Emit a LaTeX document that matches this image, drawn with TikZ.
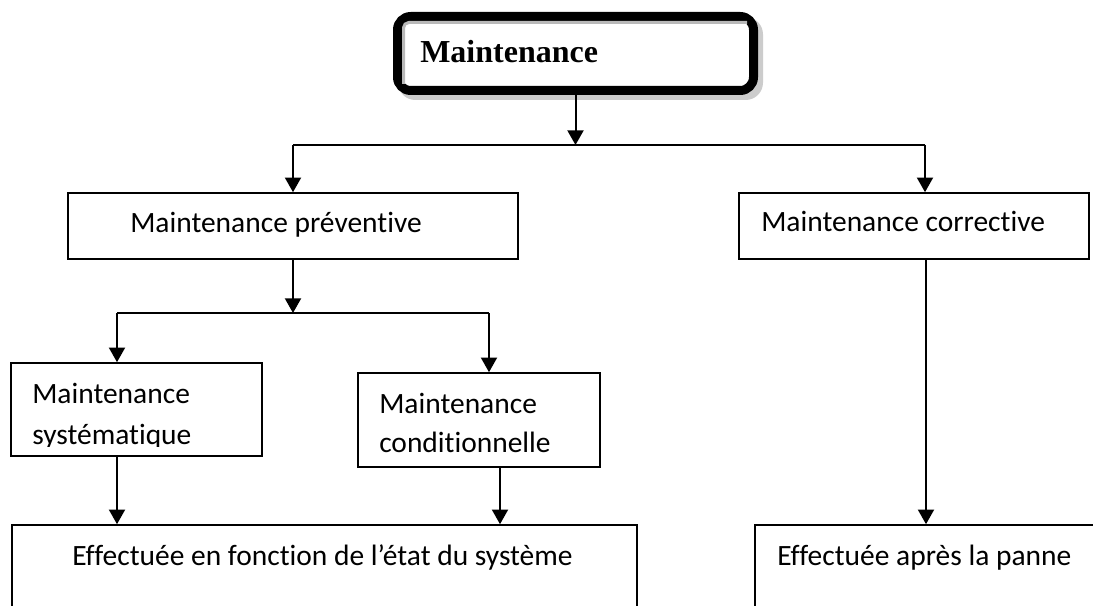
\documentclass[tikz,border=0pt]{standalone}
\usepackage{fontspec}
\setmainfont{Liberation Serif}
\newfontfamily\calfont[Ligatures={NoCommon,NoRequired,NoContextual}]{Carlito}
\usetikzlibrary{arrows.meta,fit}
\begin{document}
\begin{tikzpicture}[x=0.75pt,y=-0.75pt,
  box/.style={draw,line width=1.2pt,inner sep=0pt,rectangle},
  lbl/.style={anchor=base west,inner sep=0pt,font=\calfont\fontsize{22.1pt}{26pt}\selectfont},
  arr/.style={line width=1.5pt,-{Triangle[width=12pt,length=11pt]}},
  conn/.style={line width=1.5pt}]
\clip (0,0) rectangle (1093,606);
\fill[white] (0,0) rectangle (1093,606);
% top box
\fill[gray!40,rounded corners=13pt] (398,17) rectangle (763,100);
\node[draw,line width=6.75pt,fill=white,rounded corners=10pt,inner sep=0pt,
  fit={(397.5,16.5)(753.5,90.5)}] (top) {};
\draw[gray!55,line width=2.25pt,rounded corners=4pt] (403.5,84) -- (403.5,22.5) -- (747,22.5);
\node[anchor=base west,inner sep=0pt,font=\bfseries\fontsize{24pt}{28pt}\selectfont] (toplbl) at (420,63) {Maintenance};
% boxes
\node[box,fit={(68,193)(518,259)}] (prev) {};
\node[box,fit={(739,193)(1089,259)}] (corr) {};
\node[box,fit={(11,363)(262,456)}] (sys) {};
\node[box,fit={(358,373)(600,467)}] (cond) {};
\node[box,fit={(12,525)(637,640)}] (bl) {};
\node[box,fit={(755,525)(1120,640)}] (br) {};
% labels
\node[lbl] (prevlbl) at (130,233) {Maintenance préventive};
\node[lbl] (corrlbl) at (761,232) {Maintenance corrective};
\node[lbl] (syslbla) at (32,403) {Maintenance};
\begin{scope}
\clip (11,363) rectangle (262,446);
\node[lbl] (syslblb) at (32,444) {systématique};
\end{scope}
\node[lbl] (condlbla) at (379,413) {Maintenance};
\node[lbl] (condlblb) at (379,452) {conditionnelle};
\node[lbl] (bllbl) at (72,565) {Effectuée en fonction de l’état du système};
\node[lbl] (brlbl) at (777,565) {Effectuée après la panne};
% connectors
\coordinate (j1) at (top.south |- 0,145);
\draw[arr] (top.south) -- (j1);
\coordinate (h1l) at (293,145);
\coordinate (h1r) at (925,145);
\draw[conn] (h1l) -- (h1r);
\draw[arr] (h1l) -- (h1l |- prev.north);
\draw[arr] (h1r) -- (h1r |- corr.north);
\coordinate (j2) at (prev.south |- 0,313);
\draw[arr] (prev.south) -- (j2);
\coordinate (c1) at (117,313);
\coordinate (c2) at (489,313);
\draw[conn] (c1) -- (c2);
\draw[arr] (c1) -- (c1 |- sys.north);
\draw[arr] (c2) -- (c2 |- cond.north);
\coordinate (c3) at (500,0);
\coordinate (c4) at (926,0);
\draw[arr] (c1 |- sys.south) -- (c1 |- bl.north);
\draw[arr] (c3 |- cond.south) -- (c3 |- bl.north);
\draw[arr] (c4 |- corr.south) -- (c4 |- br.north);
\end{tikzpicture}
\end{document}
